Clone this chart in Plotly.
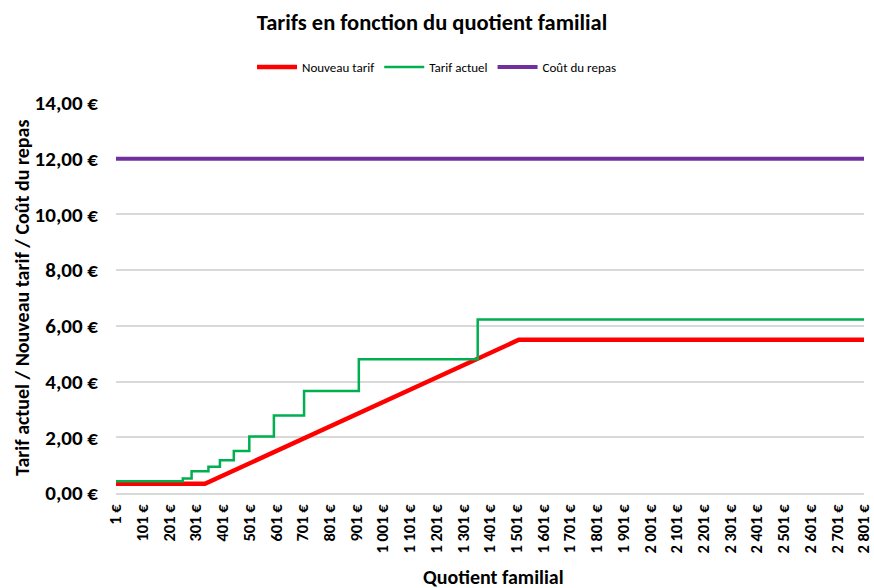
import plotly.graph_objects as go

# Data
qf_nouveau = [1, 334, 1509, 2801]
val_nouveau = [0.33, 0.33, 5.50, 5.50]

qf_actuel = [1, 251, 284, 347, 390, 442, 500, 592, 705, 910, 1355, 2801]
val_actuel = [0.42, 0.52, 0.78, 0.94, 1.18, 1.51, 2.03, 2.78, 3.66, 4.80, 6.23, 6.23]

qf_repas = [1, 2801]
val_repas = [12.00, 12.00]

x_tickvals = list(range(1, 2802, 100))
x_ticktext = [("{:,}".format(v).replace(",", " ")) + " €" for v in x_tickvals]
y_tickvals = [0, 2, 4, 6, 8, 10, 12, 14]
y_ticktext = ["{:.2f}".format(v).replace(".", ",") + " €" for v in y_tickvals]

FONT = "Carlito, 'Liberation Sans Narrow', Roboto, sans-serif"

L, R, T, B = 116, 10, 103, 95
W, H = 874, 588

fig = go.Figure()
fig.add_trace(go.Scatter(x=qf_nouveau, y=val_nouveau, mode="lines", name="Nouveau tarif",
                         line=dict(color="#ff0000", width=4.5)))
fig.add_trace(go.Scatter(x=qf_actuel, y=val_actuel, mode="lines", name="Tarif actuel",
                         line=dict(color="#00b050", width=2.5, shape="hv")))
fig.add_trace(go.Scatter(x=qf_repas, y=val_repas, mode="lines", name="Coût du repas",
                         line=dict(color="#7030a0", width=4)))

pw = W - L - R
ph = H - T - B

fig.update_layout(
    width=W, height=H,
    margin=dict(l=L, r=R, t=T, b=B, autoexpand=False),
    paper_bgcolor="white", plot_bgcolor="white",
    font=dict(family=FONT, color="#000000"),
    title=dict(text="<b>Tarifs en fonction du quotient familial</b>", xref="container", x=432 / W,
               xanchor="center", yref="container", y=1 - 22 / H, yanchor="middle",
               font=dict(size=22.5, family=FONT)),
    legend=dict(orientation="h", xref="container", x=437 / W, xanchor="center",
                yref="container", y=1 - 67 / H, yanchor="middle",
                font=dict(size=13, family=FONT), itemwidth=40, tracegroupgap=0),
    showlegend=True,
    annotations=[
        dict(text="<b>Tarif actuel / Nouveau tarif / Coût du repas</b>", xref="paper", yref="paper",
             x=(22 - L) / pw, y=0.5, xanchor="center", yanchor="middle", textangle=-90,
             showarrow=False, font=dict(size=20, family=FONT)),
        dict(text="<b>Quotient familial</b>", xref="paper", yref="paper",
             x=(493 - L) / pw, y=-(577 - (T + ph)) / ph, xanchor="center", yanchor="middle",
             showarrow=False, font=dict(size=20, family=FONT)),
    ],
)
fig.update_xaxes(range=[1, 2801], tickvals=x_tickvals, ticktext=["<b>%s</b>" % t for t in x_ticktext],
                 tickangle=-90, tickfont=dict(size=16.5, family=FONT), showgrid=False, showline=True,
                 linecolor="#d9d9d9", linewidth=1.5, zeroline=False, ticks="", automargin=False,
                 ticklabelstandoff=3, ticklabeloverflow="allow", fixedrange=True)
fig.update_yaxes(range=[0, 14], tickvals=y_tickvals, ticktext=["<b>%s</b>" % t for t in y_ticktext],
                 tickfont=dict(size=21, family=FONT), showgrid=True, gridcolor="#d9d9d9",
                 gridwidth=1.5, zeroline=False, showline=False, ticks="", automargin=False,
                 ticklabelstandoff=17, fixedrange=True)

fig.write_html("out.html", config={"displayModeBar": False},
               post_script="document.body.style.margin='0';")
